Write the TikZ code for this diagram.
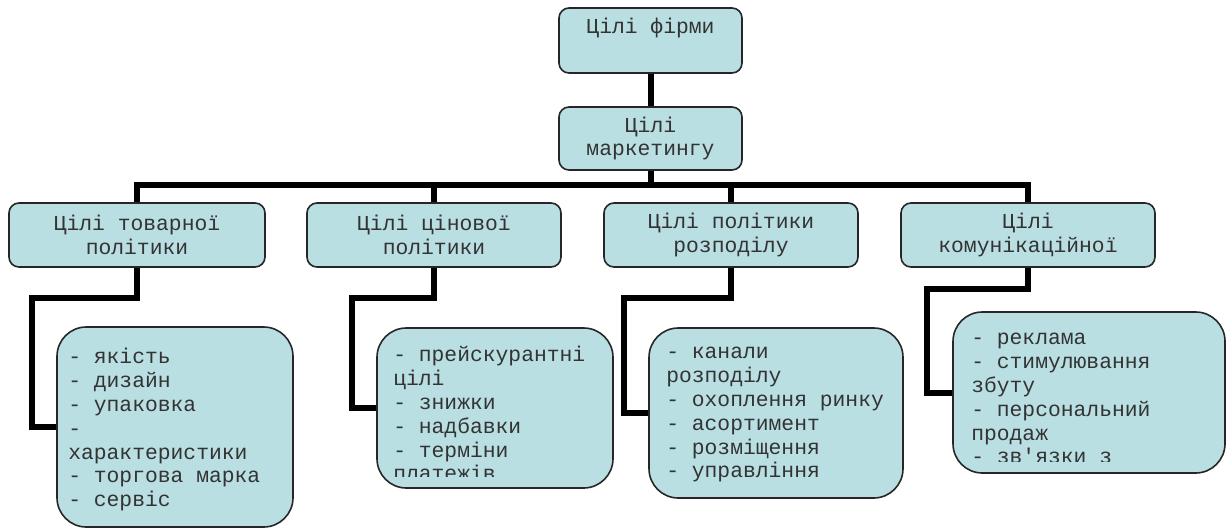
\documentclass[tikz,border=0pt]{standalone}
\usepackage{fontspec}
\setmonofont{Liberation Mono}
\usetikzlibrary{positioning}
\definecolor{boxfill}{RGB}{185,223,227}
\tikzset{
  goalbox/.style={draw=black!85, line width=1.2pt, fill=boxfill, rounded corners=7.5pt, inner sep=0pt,
    text=black!80, font=\ttfamily\fontsize{16}{17.5}\selectfont, align=center},
  itembox/.style={goalbox, rounded corners=22pt},
  itemtext/.style={text=black!80, font=\ttfamily\fontsize{16}{17.85}\selectfont, align=left, anchor=north west, inner sep=0pt},
  conn/.style={line width=4.5pt, line join=miter},
}
\begin{document}
\begin{tikzpicture}[x=0.75pt, y=-0.75pt]
    \useasboundingbox (0,0) rectangle (1227,529);

    % Top levels
    \node[goalbox, minimum width=137.25pt, minimum height=48.75pt] (firm) at (650.5,40.5) {};
    \node[text=black!80, font=\ttfamily\fontsize{16}{17}\selectfont, inner sep=0pt] (firmt) at (650.5,28) {Цілі фірми};
    \node[goalbox, minimum width=137.25pt, minimum height=47.25pt] (mkt) at (650.5,138.5) {Цілі\\маркетингу};

    % Goals of the four policies
    \node[goalbox, minimum width=192pt, minimum height=48pt] (g1) at (137,235) {Цілі товарної\\політики};
    \node[goalbox, minimum width=190.5pt, minimum height=48pt] (g2) at (434,235) {Цілі цінової\\політики};
    \node[goalbox, minimum width=190.5pt, minimum height=48pt] (g3) at (731,235) {Цілі політики\\розподілу};
    \node[goalbox, minimum width=190.5pt, minimum height=48pt] (g4) at (1028,235) {Цілі\\комунікаційної};

    % Item boxes
    \node[itembox, minimum width=177pt, minimum height=150pt] (d1) at (175,427) {};
    \node[itembox, minimum width=177pt, minimum height=120pt] (d2) at (495,408) {};
    \node[itembox, minimum width=190.5pt, minimum height=127.5pt] (d3) at (776,413) {};
    \node[itembox, minimum width=204pt, minimum height=120.75pt] (d4) at (1089,392.5) {};

    \node[itemtext] (d1t) at (68,347) {\strut- якість\\- дизайн\\- упаковка\\-\\характеристики\\- торгова марка\\- сервіс};
    \begin{scope}
        \clip (360,300) rectangle (620,476);
        \node[itemtext] (d2t) at (393,345) {\strut- прейскурантні\\цілі\\- знижки\\- надбавки\\- терміни\\платежів};
    \end{scope}
    \node[itemtext] (d3t) at (666,342) {\strut- канали\\розподілу\\- охоплення ринку\\- асортимент\\- розміщення\\- управління};
    \begin{scope}
        \clip (940,300) rectangle (1227,461);
        \node[itemtext] (d4t) at (971,328) {\strut- реклама\\- стимулювання\\збуту\\- персональний\\продаж\\- зв'язки з};
    \end{scope}

    % Connectors
    \coordinate (bus) at (650,185);
    \draw[conn] (firm.south) -- (mkt.north);
    \draw[conn] (mkt.south) -- (mkt.south |- bus);
    \draw[conn] (g1.north) |- (bus) -| (g4.north);
    \draw[conn] (g2.north) -- (g2.north |- bus);
    \draw[conn] (g3.north) -- (g3.north |- bus);

    \draw[conn] (g1.south) -- ++(0,30) -| ([xshift=-18pt]d1.west) -- (d1.west);
    \draw[conn] (g2.south) -- ++(0,30) -| ([xshift=-18pt]d2.west) -- (d2.west);
    \draw[conn] (g3.south) -- ++(0,30) -| ([xshift=-18pt]d3.west) -- (d3.west);
    \draw[conn] (g4.south) -- ++(0,21) -| ([xshift=-18.75pt]d4.west) -- (d4.west);
\end{tikzpicture}
\end{document}
